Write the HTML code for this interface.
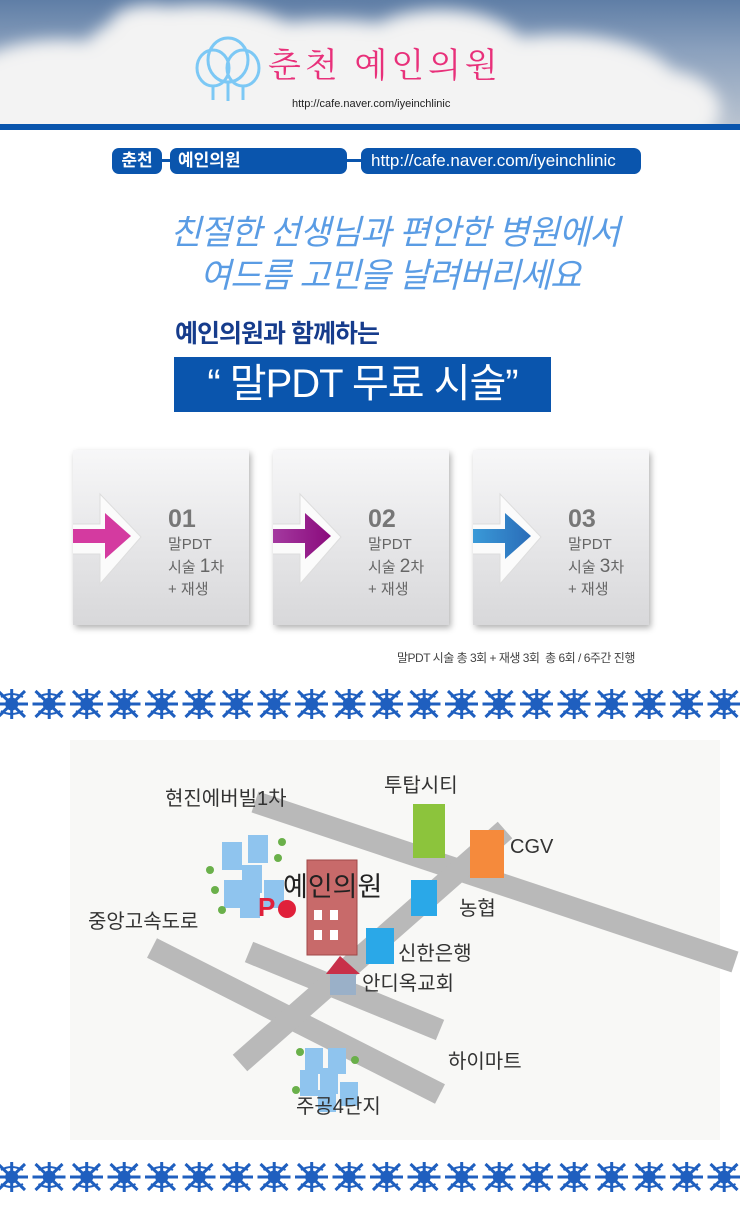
<!DOCTYPE html>
<html><head><meta charset="utf-8"><style>
html,body{margin:0;width:740px;height:1205px;overflow:hidden}
body{position:relative;background:#fff;font-family:"Liberation Sans","Noto Sans CJK KR",sans-serif}
.a{position:absolute;white-space:nowrap}
.pill{position:absolute;background:#0a55ad;color:#fff;border-radius:7px;height:26px;line-height:26px;font-size:17px;font-weight:bold}
.box{position:absolute;top:450px;width:176px;height:175px;background:linear-gradient(#f7f7f8,#e4e4e6 60%,#d8d8da);box-shadow:2px 3px 6px rgba(0,0,0,.3)}
.num{position:absolute;left:95px;top:55px;font-size:25px;font-weight:bold;color:#777}
.st{position:absolute;left:95px;top:84px;font-size:15px;line-height:22px;color:#666}
.map{font-family:"Liberation Sans","Noto Sans CJK KR",sans-serif;fill:#333}
</style></head><body>
<div class="a" style="left:0;top:0;width:740px;height:124px;background:linear-gradient(#5f7ea6,#8aa0bd 40%,#b9c3d0);overflow:hidden">
<svg width="740" height="124" style="position:absolute;left:0;top:0">
<defs><filter id="b"><feGaussianBlur stdDeviation="8"/></filter></defs>
<g fill="#f3f3f3" filter="url(#b)">
<ellipse cx="60" cy="100" rx="110" ry="60"/><ellipse cx="200" cy="60" rx="120" ry="55"/><ellipse cx="330" cy="80" rx="140" ry="60"/>
<ellipse cx="440" cy="60" rx="90" ry="50"/><ellipse cx="560" cy="90" rx="120" ry="55"/><ellipse cx="660" cy="110" rx="60" ry="40"/>
<ellipse cx="300" cy="120" rx="400" ry="30"/><ellipse cx="150" cy="25" rx="40" ry="20"/>
</g>
<g fill="none" stroke="#7cc8f5" stroke-width="3">
<ellipse cx="213" cy="68" rx="16" ry="18"/><ellipse cx="243" cy="68" rx="16" ry="18"/><ellipse cx="228" cy="60" rx="20" ry="22"/>
<path d="M213 86v14M228 82v19M243 86v14"/></g>
</svg>
<div class="a" style="left:268px;top:38px;font-size:34px;color:#e8307a;font-family:'Noto Serif CJK SC',serif;letter-spacing:4px">춘천 예인의원</div>
<div class="a" style="left:292px;top:98px;font-size:11px;color:#222">http://cafe.naver.com/iyeinchlinic</div>
</div>
<div class="a" style="left:0;top:124px;width:740px;height:6px;background:#0a55ad"></div>
<div class="a" style="left:160px;top:159px;width:12px;height:3px;background:#0a55ad"></div>
<div class="a" style="left:345px;top:159px;width:18px;height:3px;background:#0a55ad"></div>
<div class="pill" style="left:112px;top:148px;width:50px;text-align:center">춘천</div>
<div class="pill" style="left:170px;top:148px;width:177px;padding-left:8px;box-sizing:border-box">예인의원</div>
<div class="pill" style="left:361px;top:148px;width:280px;padding-left:10px;box-sizing:border-box;font-weight:normal">http://cafe.naver.com/iyeinchlinic</div>
<div class="a" style="left:170px;top:205px;font-size:34px;color:#5a9ce4;font-style:italic;letter-spacing:-1px">친절한 선생님과 편안한 병원에서</div>
<div class="a" style="left:200px;top:248px;font-size:34px;color:#5a9ce4;font-style:italic;letter-spacing:-1px">여드름 고민을 날려버리세요</div>
<div class="a" style="left:175px;top:314px;font-size:25px;color:#163c8c;font-weight:bold;letter-spacing:-1px">예인의원과 함께하는</div>
<div class="a" style="left:174px;top:357px;width:377px;height:55px;background:#0a55ad;color:#fff;font-size:40px;line-height:55px;text-align:center;letter-spacing:-1px">“ 말PDT 무료 시술”</div>
<div class="box" style="left:73px"><svg width="120" height="175" style="position:absolute;left:0;top:0"><path d="M0 74H27V44L68 87L27 134V104H0" fill="#fbfbfb" stroke="#ddd"/><path d="M0 79H32V63L58 86L32 109V93H0Z" fill="#d43aa0"/></svg><div class="num">01</div><div class="st">말PDT<br>시술 <span style="font-size:19px">1</span>차<br>+ 재생</div></div>
<div class="box" style="left:273px"><svg width="120" height="175" style="position:absolute;left:0;top:0"><defs><linearGradient id="g2"><stop offset="0" stop-color="#a43aa0"/><stop offset="1" stop-color="#8a0a7c"/></linearGradient></defs><path d="M0 74H27V44L68 87L27 134V104H0" fill="#fbfbfb" stroke="#ddd"/><path d="M0 79H32V63L58 86L32 109V93H0Z" fill="url(#g2)"/></svg><div class="num">02</div><div class="st">말PDT<br>시술 <span style="font-size:19px">2</span>차<br>+ 재생</div></div>
<div class="box" style="left:473px"><svg width="120" height="175" style="position:absolute;left:0;top:0"><defs><linearGradient id="g3"><stop offset="0" stop-color="#3a9ad8"/><stop offset="1" stop-color="#2a6cb8"/></linearGradient></defs><path d="M0 74H27V44L68 87L27 134V104H0" fill="#fbfbfb" stroke="#ddd"/><path d="M0 79H32V63L58 86L32 109V93H0Z" fill="url(#g3)"/></svg><div class="num">03</div><div class="st">말PDT<br>시술 <span style="font-size:19px">3</span>차<br>+ 재생</div></div>
<div class="a" style="left:397px;top:649px;font-size:12px;color:#444;letter-spacing:-.5px">말PDT 시술 총 3회 + 재생 3회 &nbsp;총 6회 / 6주간 진행</div>
<svg class="a" style="left:0;top:687px" width="740" height="34"><defs><pattern id="p" x="-7" width="37.5" height="34" patternUnits="userSpaceOnUse"><g stroke="#1f5fbf" stroke-width="3" fill="none"><path d="M5 4L32 30M32 4L5 30M18.7 2V32M2 17H35"/><circle cx="18.7" cy="17" r="5" fill="#1f5fbf"/><path d="M8 10q10-6 22 0M8 24q10 6 22 0" stroke-width="2"/></g></pattern></defs><rect width="740" height="34" fill="url(#p)"/></svg>
<svg class="a" style="left:0;top:1160px" width="740" height="34"><rect width="740" height="34" fill="url(#p)"/></svg>
<svg class="a map" style="left:0;top:730px" width="740" height="420">
<rect x="70" y="10" width="650" height="400" fill="#f8f8f6"/>
<g stroke="#b9b9b9" stroke-width="22" fill="none">
<path d="M255 72L735 232"/><path d="M152 218L440 364"/><path d="M249 222L440 300"/><path d="M240 333L505 100"/>
</g>
<text x="165" y="75" font-size="20">현진에버빌1차</text>
<text x="384" y="62" font-size="20">투탑시티</text>
<text x="510" y="123" font-size="20">CGV</text>
<text x="88" y="198" font-size="20">중앙고속도로</text>
<text x="459" y="185" font-size="20">농협</text>
<text x="398" y="230" font-size="20">신한은행</text>
<text x="362" y="260" font-size="20">안디옥교회</text>
<text x="448" y="338" font-size="20">하이마트</text>
<rect x="413" y="74" width="32" height="54" fill="#8cc43c"/>
<rect x="470" y="100" width="34" height="48" fill="#f58a3c"/>
<rect x="411" y="150" width="26" height="36" fill="#2aa8e8"/>
<rect x="366" y="198" width="28" height="36" fill="#2aa8e8"/>
<rect x="307" y="130" width="50" height="95" fill="#c86a6a" stroke="#a04848"/>
<g fill="#fff"><rect x="314" y="180" width="8" height="10"/><rect x="330" y="180" width="8" height="10"/><rect x="314" y="200" width="8" height="10"/><rect x="330" y="200" width="8" height="10"/></g>
<rect x="330" y="243" width="26" height="22" fill="#9ab0c8"/><path d="M326 244L340 226L360 244Z" fill="#c8304a"/>
<g fill="#8fc4ee"><rect x="222" y="112" width="20" height="28"/><rect x="248" y="105" width="20" height="28"/><rect x="242" y="135" width="20" height="28"/><rect x="264" y="150" width="20" height="28"/><rect x="224" y="150" width="20" height="28"/><rect x="240" y="160" width="20" height="28"/></g>
<g fill="#8fc4ee"><rect x="305" y="318" width="18" height="26"/><rect x="328" y="318" width="18" height="26"/><rect x="320" y="338" width="18" height="26"/><rect x="300" y="340" width="18" height="26"/><rect x="340" y="352" width="18" height="24"/><rect x="318" y="360" width="18" height="22"/></g>
<g fill="#6ab04a"><circle cx="210" cy="140" r="4"/><circle cx="215" cy="160" r="4"/><circle cx="222" cy="180" r="4"/><circle cx="282" cy="112" r="4"/><circle cx="278" cy="128" r="4"/><circle cx="300" cy="322" r="4"/><circle cx="355" cy="330" r="4"/><circle cx="296" cy="360" r="4"/></g>
<text x="296" y="383" font-size="20">주공4단지</text>
<text x="258" y="186" font-size="26" fill="#e0203a" font-weight="bold">P</text><circle cx="287" cy="179" r="9" fill="#e0203a"/>
<text x="283" y="166" font-size="27" fill="#222">예인의원</text>
</svg>
</body></html>
